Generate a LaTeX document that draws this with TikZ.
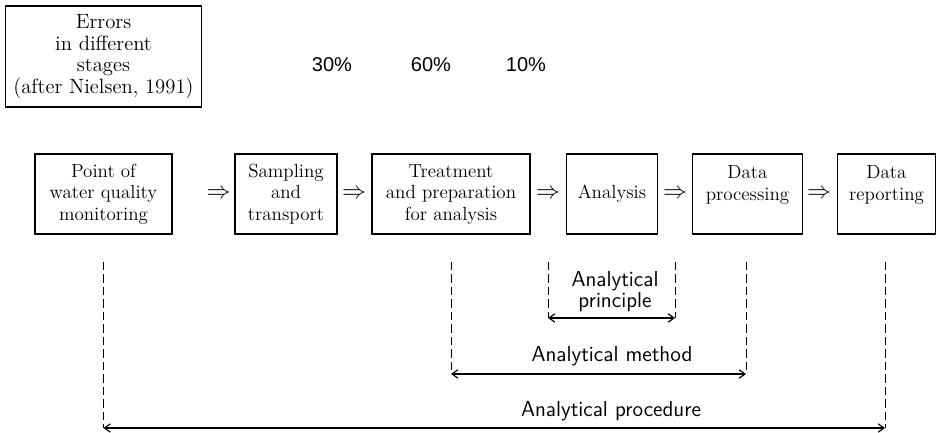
\documentclass[tikz,border=0pt]{standalone}
\usepackage{fontspec}
\newfontfamily\pctfont{Liberation Sans}
\usetikzlibrary{calc, arrows.meta}
\tikzset{>={Straight Barb[length=3.5pt,width=5pt]}}
\tikzset{
  stage/.style={draw, line width=0.7pt, inner sep=0pt, minimum height=48pt,
    align=center, font=\fontsize{11.4}{12.9}\selectfont},
  implies/.style={inner sep=0pt, font=\fontsize{14}{14}\selectfont},
  share/.style={inner sep=0pt, font=\pctfont\fontsize{12}{14}\selectfont},
  limit/.style={line width=0.6pt, dash pattern=on 5pt off 2.5pt},
  span/.style={<->, line width=0.7pt},
  spanlabel/.style={inner sep=0pt, align=center, font=\sffamily\fontsize{13}{12.6}\selectfont}}

\begin{document}
\begin{tikzpicture}[x=0.6pt, y=-0.6pt]
  \useasboundingbox (0,0) rectangle (936,433);

  % ERRORS
  \node[stage, minimum width=118pt, minimum height=60.6pt, font=\fontsize{12.4}{13}\selectfont]
    (errors) at (103.5,56.5) {Errors\\in different\\stages\\(after Nielsen, 1991)};
  \node[share] (p30) at (332,65) {30\%};
  \node[share] (p60) at (431,65) {60\%};
  \node[share] (p10) at (526,65) {10\%};

  % STAGES
  \node[stage, minimum width=82.2pt] (point) at (103.5,194) {Point of\\water quality\\monitoring};
  \node[stage, minimum width=61.2pt] (sampling) at (286,194) {Sampling\\and\\transport};
  \node[stage, minimum width=94.8pt] (treatment) at (451,194) {Treatment\\and preparation\\for analysis};
  \node[stage, minimum width=54.6pt] (analysis) at (612,194) {Analysis};
  \node[stage, minimum width=66pt] (processing) at (747.5,194) {Data\\processing\\~};
  \node[stage, minimum width=58.8pt] (reporting) at (886.5,194) {Data\\reporting\\~};

  \node[implies] (i1) at (218.5,194) {$\Rightarrow$};
  \node[implies] (i2) at (354,194) {$\Rightarrow$};
  \node[implies] (i3) at (548,194) {$\Rightarrow$};
  \node[implies] (i4) at (675,194) {$\Rightarrow$};
  \node[implies] (i5) at (819,194) {$\Rightarrow$};

  % RANGES
  \coordinate (prinT1) at (548,262);
  \coordinate (prinT2) at (675,262);
  \coordinate (prinB1) at (548,318);
  \coordinate (prinB2) at (675,318);
  \coordinate (methT1) at (451,262);
  \coordinate (methT2) at (746,262);
  \coordinate (methB1) at (451,374);
  \coordinate (methB2) at (746,374);
  \coordinate (procT1) at (103.5,262);
  \coordinate (procT2) at (885,262);
  \coordinate (procB1) at (103.5,428);
  \coordinate (procB2) at (885,428);

  \draw[limit] (prinT1) -- (prinB1) (prinT2) -- (prinB2);
  \draw[limit] (methT1) -- (methB1) (methT2) -- (methB2);
  \draw[limit] (procT1) -- (procB1) (procT2) -- (procB2);
  \draw[span] (prinB1) -- (prinB2);
  \draw[span] (methB1) -- (methB2);
  \draw[span] (procB1) -- (procB2);
  \node[spanlabel] (prinlabel) at (615,292) {Analytical\\principle};
  \node[spanlabel] (methlabel) at (612,356) {Analytical method};
  \node[spanlabel] (proclabel) at (611,411) {Analytical procedure};
\end{tikzpicture}
\end{document}
